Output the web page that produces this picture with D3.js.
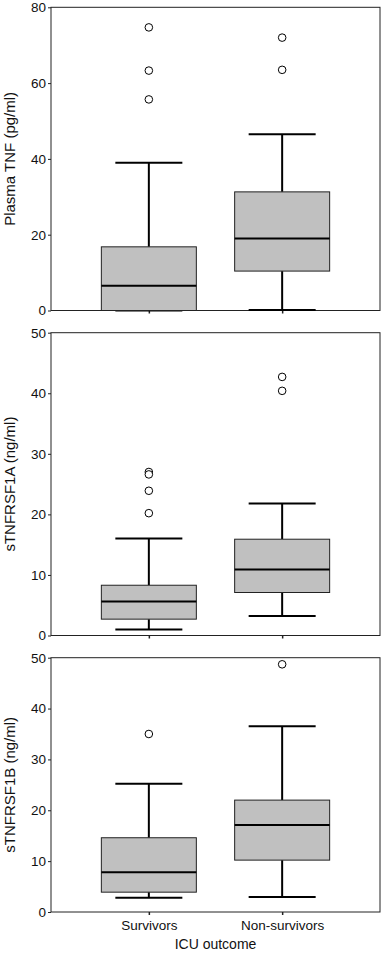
<!DOCTYPE html>
<html>
<head>
<meta charset="utf-8">
<script src="https://cdn.jsdelivr.net/npm/d3@7"></script>
<style>
  body { margin: 0; background: #fff; }
  text { font-family: "Liberation Sans", Arial, sans-serif; fill: #111; }
</style>
</head>
<body>
<div id="chart"></div>
<script>
// groups on the x axis
const groups = ["Survivors", "Non-survivors"];

// box stats per group: [lower whisker, q1, median, q3, upper whisker]
const tnfBoxes = [[0, 0, 6.5, 16.8, 39.0], [0.1, 10.4, 19.0, 31.3, 46.5]];
const tnfOutliers = [[74.7, 63.3, 55.7], [72.0, 63.5]];
const tnfTicks = [0, 20, 40, 60, 80];

const r1aBoxes = [[1.0, 2.7, 5.6, 8.3, 16.0], [3.2, 7.1, 10.9, 15.9, 21.8]];
const r1aOutliers = [[27.0, 26.6, 23.9, 20.2], [42.7, 40.4]];
const r1aTicks = [0, 10, 20, 30, 40, 50];

const r1bBoxes = [[2.8, 3.9, 7.8, 14.6, 25.2], [2.95, 10.2, 17.1, 22.0, 36.5]];
const r1bOutliers = [[35.0], [48.7]];
const r1bTicks = [0, 10, 20, 30, 40, 50];

const titles = ["Plasma TNF (pg/ml)", "sTNFRSF1A (ng/ml)", "sTNFRSF1B (ng/ml)"];

const WIDTH = 383, HEIGHT = 953;
const LEFT = 51, RIGHT = 380;

const svg = d3.select("#chart").append("svg")
    .attr("width", WIDTH)
    .attr("height", HEIGHT);

const x = d3.scalePoint().domain(groups).range([LEFT, RIGHT]).padding(0.734);
const BOX_W = 95, CAP_W = 67;

const panels = [
    { boxes: tnfBoxes, outliers: tnfOutliers, ticks: tnfTicks, max: 80, top: 7.3, bottom: 310.5, title: titles[0] },
    { boxes: r1aBoxes, outliers: r1aOutliers, ticks: r1aTicks, max: 50, top: 332.7, bottom: 635.5, title: titles[1] },
    { boxes: r1bBoxes, outliers: r1bOutliers, ticks: r1bTicks, max: 50, top: 657.7, bottom: 912, title: titles[2] }
];

panels.forEach((p, i) => {
    const y = d3.scaleLinear().domain([0, p.max]).range([p.bottom, p.top]);
    const g = svg.append("g");

    // frame
    g.append("rect")
        .attr("x", LEFT).attr("y", y(p.max))
        .attr("width", RIGHT - LEFT).attr("height", y(0) - y(p.max))
        .attr("fill", "none").attr("stroke", "#222").attr("stroke-width", 1);

    // y axis
    const yAxis = g.append("g")
        .attr("transform", `translate(${LEFT},0)`)
        .call(d3.axisLeft(y).tickValues(p.ticks).tickSize(3).tickPadding(2).tickFormat(d3.format("d")));
    yAxis.select(".domain").remove();
    yAxis.selectAll("text").style("font-size", "13.5px").attr("fill", "#111");
    yAxis.selectAll("line").attr("stroke", "#222");

    // x axis ticks
    const xAxis = g.append("g")
        .attr("transform", `translate(0,${y(0)})`)
        .call(d3.axisBottom(x).tickSize(3).tickPadding(5));
    xAxis.select(".domain").remove();
    xAxis.selectAll("line").attr("stroke", "#222").attr("stroke-width", 1.5);
    if (i < 2) xAxis.selectAll("text").remove();
    else xAxis.selectAll("text").style("font-size", "13.5px").attr("fill", "#111");

    // y title
    g.append("text")
        .attr("transform", `translate(15,${(y(0) + y(p.max)) / 2}) rotate(-90)`)
        .attr("text-anchor", "middle")
        .style("font-size", "15px")
        .text(p.title);

    // boxes
    groups.forEach((grp, j) => {
        const [lo, q1, med, q3, hi] = p.boxes[j];
        const cx = x(grp);
        // whiskers
        g.append("line").attr("x1", cx).attr("x2", cx).attr("y1", y(q3)).attr("y2", y(hi))
            .attr("stroke", "#000").attr("stroke-width", 2);
        g.append("line").attr("x1", cx).attr("x2", cx).attr("y1", y(q1)).attr("y2", y(lo))
            .attr("stroke", "#000").attr("stroke-width", 2);
        g.append("line").attr("x1", cx - CAP_W / 2).attr("x2", cx + CAP_W / 2).attr("y1", y(hi)).attr("y2", y(hi))
            .attr("stroke", "#000").attr("stroke-width", 2);
        g.append("line").attr("x1", cx - CAP_W / 2).attr("x2", cx + CAP_W / 2).attr("y1", y(lo)).attr("y2", y(lo))
            .attr("stroke", "#000").attr("stroke-width", 2);
        // box
        g.append("rect")
            .attr("x", cx - BOX_W / 2).attr("y", y(q3))
            .attr("width", BOX_W).attr("height", y(q1) - y(q3))
            .attr("fill", "#c0c0c0").attr("stroke", "#222").attr("stroke-width", 1);
        // median
        g.append("line").attr("x1", cx - BOX_W / 2).attr("x2", cx + BOX_W / 2).attr("y1", y(med)).attr("y2", y(med))
            .attr("stroke", "#000").attr("stroke-width", 2);
        // outliers
        g.selectAll(null).data(p.outliers[j]).join("circle")
            .attr("cx", cx).attr("cy", d => y(d)).attr("r", 3.8)
            .attr("fill", "#fff").attr("stroke", "#000").attr("stroke-width", 1);
    });
});

// x title
svg.append("text")
    .attr("x", (LEFT + RIGHT) / 2).attr("y", 949)
    .attr("text-anchor", "middle")
    .style("font-size", "14px")
    .text("ICU outcome");
</script>
</body>
</html>
